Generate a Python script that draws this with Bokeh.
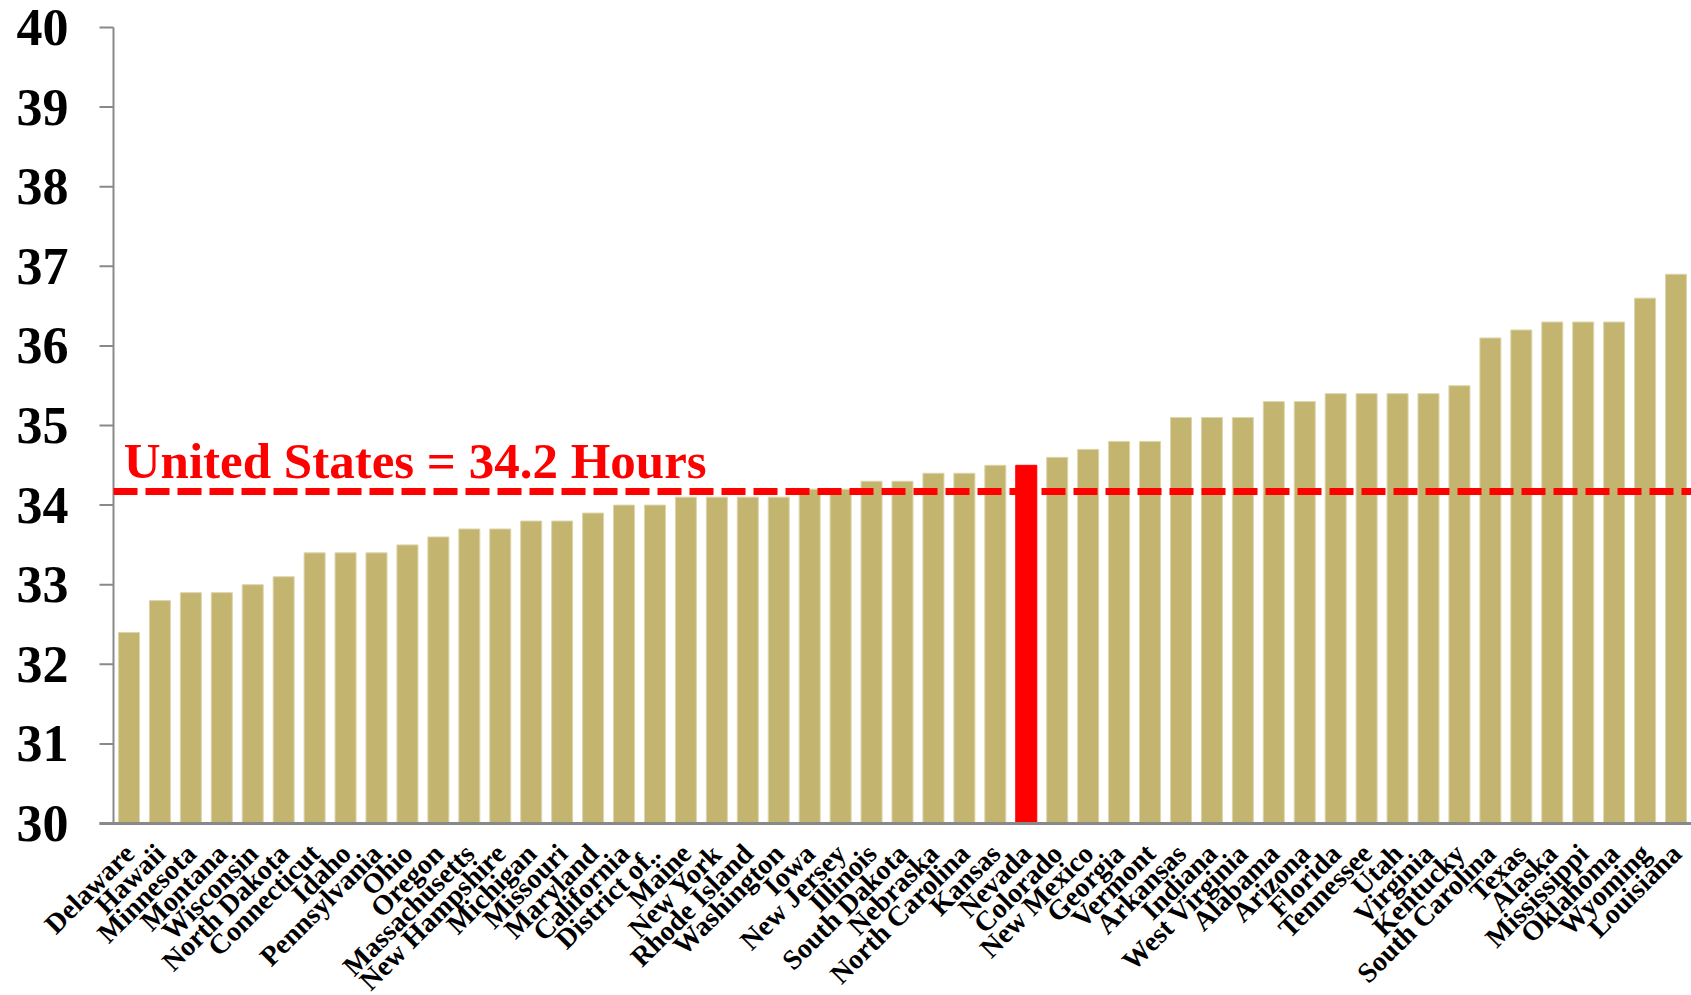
from bokeh.plotting import figure
from bokeh.models import Range1d, Label, LabelSet, ColumnDataSource
from bokeh.embed import file_html
from bokeh.resources import INLINE
import math

states = ["Delaware", "Hawaii", "Minnesota", "Montana", "Wisconsin", "North Dakota",
          "Connecticut", "Idaho", "Pennsylvania", "Ohio", "Oregon", "Massachusetts",
          "New Hampshire", "Michigan", "Missouri", "Maryland", "California", "District of..",
          "Maine", "New York", "Rhode Island", "Washington", "Iowa", "New Jersey",
          "Illinois", "South Dakota", "Nebraska", "North Carolina", "Kansas", "Nevada",
          "Colorado", "New Mexico", "Georgia", "Vermont", "Arkansas", "Indiana",
          "West Virginia", "Alabama", "Arizona", "Florida", "Tennessee", "Utah",
          "Virginia", "Kentucky", "South Carolina", "Texas", "Alaska", "Mississippi",
          "Oklahoma", "Wyoming", "Louisiana"]
hours = [32.4, 32.8, 32.9, 32.9, 33.0, 33.1,
         33.4, 33.4, 33.4, 33.5, 33.6, 33.7,
         33.7, 33.8, 33.8, 33.9, 34.0, 34.0,
         34.1, 34.1, 34.1, 34.1, 34.2, 34.2,
         34.3, 34.3, 34.4, 34.4, 34.5, 34.5,
         34.6, 34.7, 34.8, 34.8, 35.1, 35.1,
         35.1, 35.3, 35.3, 35.4, 35.4, 35.4,
         35.4, 35.5, 36.1, 36.2, 36.3, 36.3,
         36.3, 36.6, 36.9]
highlight = "Nevada"
us_average = 34.17
us_label = "United States = 34.2 Hours"
y_ticks = [30, 31, 32, 33, 34, 35, 36, 37, 38, 39, 40]
y_min, y_max = 30, 40

GOLD = "#C3B570"
RED = "#FF0000"
AXIS = "#898989"
FONT = "Liberation Serif"

# ---- layout (pixels) ----
W, H = 1691, 995
AX_LEFT = 113          # x pixel of value axis
AX_TOP = 27            # y pixel of 40
AX_BOTTOM = 823        # y pixel of 30
TICK_PX = 14
n = len(states)
px_x = (W - AX_LEFT) / n
px_y = (AX_BOTTOM - AX_TOP) / (y_max - y_min)
x_start = -AX_LEFT / px_x
y_start = y_min - (H - AX_BOTTOM) / px_y
y_end = y_max + AX_TOP / px_y
tick_len = TICK_PX / px_x

xs = [i + 0.5 for i in range(n)]
colors = [RED if s == highlight else GOLD for s in states]
edges = [RED if s == highlight else "#DDD5AC" for s in states]
src = ColumnDataSource(dict(x=xs, state=states, hours=hours, color=colors, edge=edges,
                            base=[y_min] * n))

p = figure(width=W, height=H, output_backend="svg", toolbar_location=None,
           x_range=Range1d(x_start, n), y_range=Range1d(y_start, y_end),
           x_axis_type=None, y_axis_type=None,
           min_border=0, min_border_left=0, min_border_right=0,
           min_border_top=0, min_border_bottom=0)
p.outline_line_color = None
p.xgrid.grid_line_color = None
p.ygrid.grid_line_color = None
p.background_fill_color = "white"
p.border_fill_color = "white"

p.vbar(x="x", top="hours", bottom=y_min, width=0.68, source=src,
       fill_color="color", line_color="edge", line_width=1)

# value axis: line, ticks, labels
p.segment(x0=[0], y0=[y_min], x1=[0], y1=[y_max], line_color=AXIS, line_width=2)
p.segment(x0=[-tick_len] * len(y_ticks), y0=y_ticks, x1=[0] * len(y_ticks), y1=y_ticks,
          line_color=AXIS, line_width=2)
p.text(x=[0] * len(y_ticks), y=y_ticks, text=[str(t) for t in y_ticks],
       x_offset=-(TICK_PX + 31), text_align="right", text_baseline="middle",
       text_font="Liberation Serif", text_font_style="bold", text_font_size="52px",
       text_color="black")

# category axis line
p.segment(x0=[-tick_len], y0=[y_min], x1=[n], y1=[y_min], line_color=AXIS, line_width=3)

# U.S. average
p.segment(x0=[0], y0=[us_average], x1=[n], y1=[us_average], line_color=RED,
          line_width=7, line_dash="24 8")
p.add_layout(Label(x=0.33, y=34.56, text=us_label, text_color=RED,
                   text_font=FONT, text_font_style="bold", text_font_size="51px",
                   text_baseline="alphabetic", text_align="left"))

# rotated category labels
p.add_layout(LabelSet(x="x", y="base", text="state", source=src,
                      angle=math.pi / 4, x_offset=7, y_offset=-32,
                      text_align="right", text_baseline="alphabetic",
                      text_font=FONT, text_font_style="bold", text_font_size="28px",
                      text_color="black"))

open("out.html", "w").write(file_html(p, INLINE))
